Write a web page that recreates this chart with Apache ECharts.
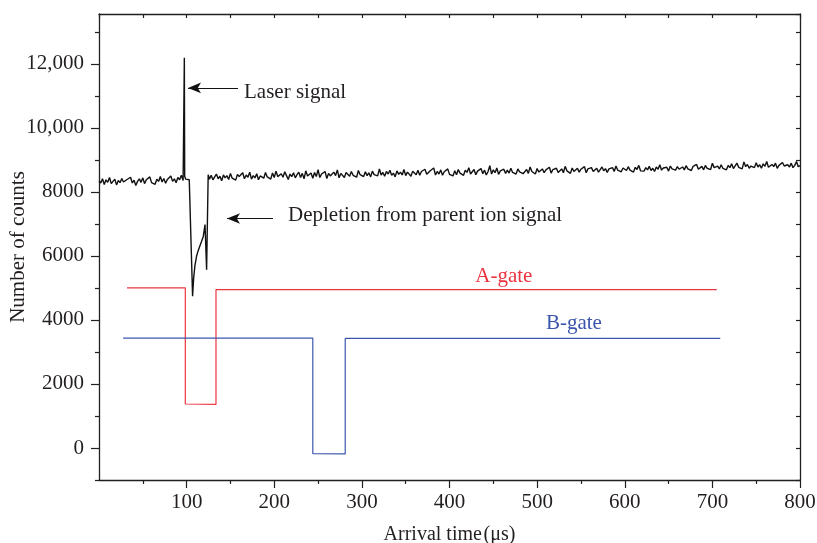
<!DOCTYPE html>
<html><head><meta charset="utf-8">
<script src="https://cdn.jsdelivr.net/npm/echarts@6/dist/echarts.min.js"></script>
<style>html,body{margin:0;padding:0;background:#fff}#c{width:817px;height:543px}</style>
</head><body><div id="c"></div>
<script>
// ---------------- data ----------------
const xTickValues = [100, 200, 300, 400, 500, 600, 700, 800];
const xMinorTickValues = [50, 150, 250, 350, 450, 550, 650, 750];
const yTickValues = [0, 2000, 4000, 6000, 8000, 10000, 12000];
const yMinorTickValues = [-1000, 1000, 3000, 5000, 7000, 9000, 11000, 13000];

// ion signal trace, before the laser event (t = 0 .. 96 µs, every 2 µs)
const segAStart = 0, segAStep = 2;
const traceSegA = [
  8350, 8280, 8410, 8230, 8380, 8300, 8450, 8260, 8330, 8400,
  8220, 8360, 8290, 8420, 8310, 8250, 8390, 8340, 8460, 8280,
  8370, 8200, 8330, 8410, 8300, 8440, 8260, 8380, 8320, 8470,
  8290, 8350, 8240, 8400, 8330, 8480, 8310, 8420, 8270, 8390,
  8350, 8500, 8330, 8410, 8290, 8450, 8380, 8520, 8360
];
// laser spike and depletion region
const eventTimes  = [97, 97.4, 97.8, 99, 101, 103, 105, 106.8, 108, 109.4, 111.3, 113, 115, 117, 119, 121, 122.5, 122.8, 124.6];
const eventCounts = [8420, 12190, 8480, 8400, 8450, 8380, 8350, 4740, 5300, 5680, 5990, 6150, 6300, 6450, 6610, 6980, 7040, 5570, 8540];
// trace after the depletion (t = 126 .. 800 µs, every 2 µs)
const segBStart = 126, segBStep = 2;
const traceSegB = [
  8400, 8520, 8380, 8470, 8560, 8410, 8490, 8350, 8530, 8440,
  8510, 8390, 8580, 8430, 8470, 8370, 8550, 8480, 8420, 8600,
  8410, 8530, 8460, 8620, 8400, 8510, 8440, 8570, 8380, 8500,
  8560, 8430, 8610, 8470, 8520, 8400, 8590, 8450, 8650, 8480,
  8420, 8570, 8460, 8630, 8510, 8390, 8560, 8480, 8600, 8440,
  8540, 8620, 8450, 8580, 8410, 8660, 8500, 8470, 8590, 8430,
  8610, 8480, 8700, 8450, 8560, 8520, 8640, 8420, 8580, 8500,
  8470, 8620, 8510, 8690, 8440, 8580, 8530, 8450, 8610, 8560,
  8490, 8640, 8520, 8580, 8460, 8670, 8540, 8600, 8480, 8630,
  8510, 8600, 8470, 8650, 8540, 8590, 8500, 8720, 8530, 8610,
  8490, 8640, 8560, 8680, 8520, 8590, 8470, 8660, 8550, 8620,
  8530, 8700, 8510, 8620, 8570, 8490, 8650, 8600, 8540, 8680,
  8520, 8640, 8580, 8710, 8550, 8490, 8660, 8600, 8750, 8530,
  8640, 8560, 8690, 8520, 8630, 8580, 8720, 8550, 8610, 8500,
  8660, 8540, 8700, 8590, 8630, 8520, 8680, 8610, 8760, 8560,
  8590, 8700, 8540, 8650, 8610, 8730, 8570, 8680, 8530, 8640,
  8820, 8560, 8690, 8600, 8750, 8550, 8660, 8620, 8710, 8580,
  8680, 8590, 8740, 8610, 8650, 8560, 8720, 8630, 8690, 8570,
  8610, 8700, 8580, 8780, 8640, 8690, 8560, 8730, 8620, 8670,
  8720, 8600, 8690, 8640, 8770, 8590, 8700, 8650, 8740, 8610,
  8630, 8720, 8600, 8800, 8660, 8700, 8580, 8750, 8640, 8690,
  8740, 8620, 8710, 8660, 8790, 8600, 8720, 8680, 8760, 8640,
  8650, 8740, 8620, 8700, 8780, 8660, 8730, 8610, 8720, 8690,
  8760, 8640, 8810, 8680, 8720, 8630, 8750, 8700, 8670, 8790,
  8680, 8740, 8620, 8770, 8700, 8830, 8660, 8720, 8650, 8760,
  8690, 8800, 8670, 8740, 8640, 8780, 8710, 8850, 8680, 8750,
  8700, 8770, 8650, 8810, 8720, 8760, 8680, 8790, 8710, 8740,
  8780, 8690, 8820, 8720, 8760, 8670, 8800, 8740, 8860, 8710,
  8720, 8800, 8690, 8830, 8740, 8780, 8700, 8900, 8760, 8730,
  8810, 8720, 8850, 8740, 8790, 8690, 8830, 8760, 8880, 8730,
  8750, 8900, 8770, 8820, 8720, 8940, 8790, 8860, 8740, 8810,
  8830, 8760, 8910, 8780, 8850, 8740, 8880, 8800, 8950, 8770,
  8760, 8860, 8790, 8900, 8740, 8830, 8780, 8920, 8810, 8750,
  8850, 8780, 8900, 8760, 8830, 8950, 8790, 8820
];

// gate pulses
const aGateTime   = [32, 98.5, 98.5, 133.5, 133.5, 705];
const aGateCounts = [5000, 5000, 1375, 1360, 4950, 4950];
const bGateTime   = [27.5, 244, 244, 281, 281, 709];
const bGateCounts = [3430, 3430, -180, -185, 3425, 3425];

const annotationTexts = ['Laser signal', 'Depletion from parent ion signal', 'A-gate', 'B-gate'];

// ---------------- chart ----------------
const FONT = 'Liberation Serif';
const INK = '#231f20';
const RED = '#ec3440';
const BLUE = '#3b55ad';

const traceData = [];
traceSegA.forEach((v, i) => traceData.push([segAStart + i * segAStep, v]));
eventTimes.forEach((t, i) => traceData.push([t, eventCounts[i]]));
traceSegB.forEach((v, i) => traceData.push([segBStart + i * segBStep, v]));
const aGateData = aGateTime.map((t, i) => [t, aGateCounts[i]]);
const bGateData = bGateTime.map((t, i) => [t, bGateCounts[i]]);

const X_MIN = 0, X_MAX = 800, Y_MIN = -1000, Y_MAX = 13560;
const axisLineStyle = { color: INK, width: 1.3 };
const tickStyle = { color: INK, width: 1.2 };
const txt = { fontFamily: FONT, fontSize: 21, color: INK };

function fmtY(v) { return v >= 10000 ? v.toLocaleString('en-US') : String(v); }

const chart = echarts.init(document.getElementById('c'));
chart.setOption({
  animation: false,
  backgroundColor: '#fff',
  grid: { left: 99, right: 17, top: 14, bottom: 63, containLabel: false, outerBoundsMode: 'none' },
  xAxis: [
    {
      type: 'value', position: 'bottom', min: X_MIN, max: X_MAX,
      axisLine: { onZero: false, lineStyle: axisLineStyle },
      axisTick: { customValues: xTickValues, length: 8, lineStyle: tickStyle },
      axisLabel: Object.assign({ customValues: xTickValues, margin: 12 }, txt),
      splitLine: { show: false },
      name: 'Arrival time\u200A(μs)', nameLocation: 'middle', nameGap: 45,
      nameTextStyle: Object.assign({}, txt, { fontSize: 20 })
    },
    {
      type: 'value', position: 'top', min: X_MIN, max: X_MAX, interval: 50,
      axisLine: { onZero: false, lineStyle: axisLineStyle },
      axisTick: { inside: true, length: 4, lineStyle: tickStyle },
      axisLabel: { show: false }, splitLine: { show: false }
    },
    {
      type: 'value', position: 'bottom', min: X_MIN, max: X_MAX,
      axisLine: { show: false, onZero: false },
      axisTick: { customValues: xMinorTickValues, length: 4, lineStyle: tickStyle },
      axisLabel: { show: false }, splitLine: { show: false }
    }
  ],
  yAxis: [
    {
      type: 'value', position: 'left', min: Y_MIN, max: Y_MAX,
      axisLine: { onZero: false, lineStyle: axisLineStyle },
      axisTick: { customValues: yTickValues, length: 8, lineStyle: tickStyle },
      axisLabel: Object.assign({ customValues: yTickValues, margin: 15, formatter: fmtY }, txt),
      splitLine: { show: false },
      name: 'Number of counts', nameLocation: 'middle', nameGap: 70, nameRotate: 90,
      nameMoveOverlap: false,
      nameTextStyle: txt
    },
    {
      type: 'value', position: 'right', min: Y_MIN, max: Y_MAX, interval: 1000,
      axisLine: { onZero: false, lineStyle: axisLineStyle },
      axisTick: { inside: true, length: 4, lineStyle: tickStyle },
      axisLabel: { show: false }, splitLine: { show: false }
    },
    {
      type: 'value', position: 'left', min: Y_MIN, max: Y_MAX,
      axisLine: { show: false, onZero: false },
      axisTick: { customValues: yMinorTickValues, length: 4, lineStyle: tickStyle },
      axisLabel: { show: false }, splitLine: { show: false }
    }
  ],
  series: [
    {
      name: 'A-gate', type: 'line', xAxisIndex: 0, yAxisIndex: 0,
      data: aGateData, symbol: 'none', lineStyle: { color: RED, width: 1.2 }, z: 2
    },
    {
      name: 'B-gate', type: 'line', xAxisIndex: 0, yAxisIndex: 0,
      data: bGateData, symbol: 'none', lineStyle: { color: BLUE, width: 1.2 }, z: 2
    },
    {
      name: 'counts', type: 'line', xAxisIndex: 0, yAxisIndex: 0,
      data: traceData, symbol: 'none', lineStyle: { color: '#111', width: 1.4 }, z: 3
    },
    {
      name: 'notes', type: 'scatter', xAxisIndex: 0, yAxisIndex: 0,
      symbolSize: 0, silent: true, z: 4,
      itemStyle: { opacity: 1 },
      data: [
        { value: [165.5, 11100], label: { show: true, position: 'right', distance: 0, formatter: annotationTexts[0], ...txt } },
        { value: [215.7, 7260], label: { show: true, position: 'right', distance: 0, formatter: annotationTexts[1], ...txt } },
        { value: [462, 5350], label: { show: true, position: 'inside', formatter: annotationTexts[2], ...txt, color: RED } },
        { value: [542, 3885], label: { show: true, position: 'inside', formatter: annotationTexts[3], ...txt, color: BLUE } }
      ],
      markLine: {
        silent: true, animation: false,
        symbol: ['none', 'arrow'],
        lineStyle: { color: '#111', width: 1.2, type: 'solid', opacity: 1 },
        label: { show: false },
        data: [
          [{ coord: [158.6, 11250], symbol: 'none' }, { coord: [101.6, 11250], symbol: 'arrow', symbolSize: [8, 13] }],
          [{ coord: [198.6, 7170], symbol: 'none' }, { coord: [146.1, 7170], symbol: 'arrow', symbolSize: [8, 13] }]
        ]
      }
    }
  ]
});
</script>
</body></html>
